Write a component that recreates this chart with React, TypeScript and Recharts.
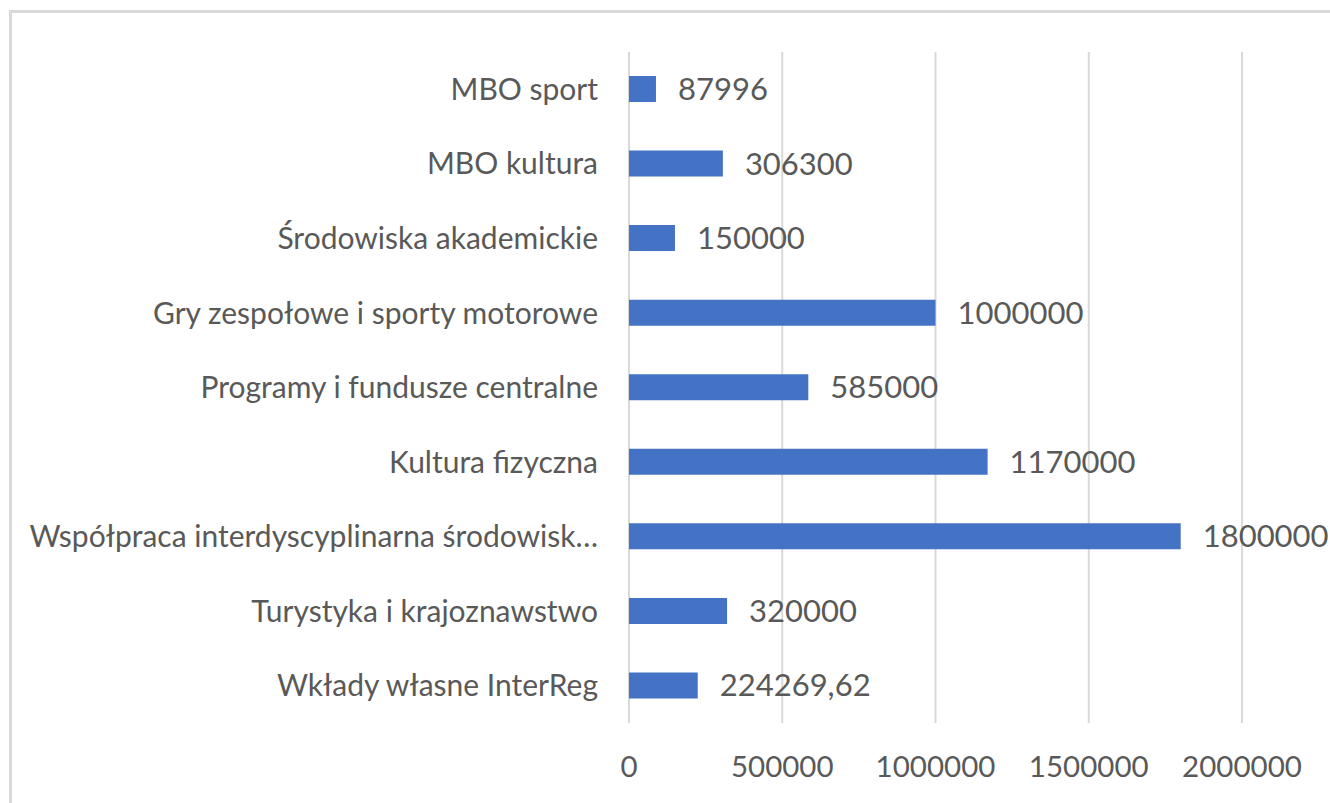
import { Bar, BarChart, CartesianGrid, LabelList, XAxis, YAxis } from 'recharts'

const categories = [
  'MBO sport',
  'MBO kultura',
  'Środowiska akademickie',
  'Gry zespołowe i sporty motorowe',
  'Programy i fundusze centralne',
  'Kultura fizyczna',
  'Współpraca interdyscyplinarna środowisk…',
  'Turystyka i krajoznawstwo',
  'Wkłady własne InterReg',
]

const amounts = [87996, 306300, 150000, 1000000, 585000, 1170000, 1800000, 320000, 224269.62]

const xTicks = [0, 500000, 1000000, 1500000, 2000000]

const chartData = categories.map((name, i) => ({ name, value: amounts[i] }))

const FONT = 'Lato, "Open Sans", sans-serif'
const TEXT = '#595959'

const App = () => {
  return (
    <div style={{ position: 'fixed', left: 0, top: 0, width: 1330, height: 803, background: '#fff', overflow: 'hidden' }}>
      <div
        style={{
          position: 'absolute',
          left: 9,
          top: 10,
          width: 1400,
          height: 900,
          border: '3px solid #d9d9d9',
          boxSizing: 'border-box',
        }}
      />
      <div style={{ position: 'absolute', left: 0, top: 0 }}>
        <BarChart
          width={1330}
          height={803}
          data={chartData}
          layout="vertical"
          margin={{ top: 52, right: 88, left: 0, bottom: 20 }}
          style={{ fontFamily: FONT }}
        >
          <CartesianGrid horizontal={false} stroke="#d9d9d9" strokeWidth={2} />
          <XAxis
            type="number"
            domain={[0, 2000000]}
            ticks={xTicks}
            interval={0}
            axisLine={false}
            tickLine={false}
            tickMargin={27}
            height={60}
            tick={{ fill: TEXT, fontSize: 29.5, fontFamily: FONT }}
          />
          <YAxis
            type="category"
            dataKey="name"
            width={629}
            axisLine={false}
            tickLine={false}
            tickMargin={25}
            interval={0}
            tick={{ fill: TEXT, fontSize: 30, fontFamily: FONT }}
          />
          <Bar dataKey="value" fill="#4472c4" barSize={26} isAnimationActive={false}>
            <LabelList
              dataKey="value"
              position="right"
              offset={22}
              fill={TEXT}
              fontSize={31}
              fontFamily={FONT}
              formatter={(v: any) => String(v).replace('.', ',')}
            />
          </Bar>
        </BarChart>
      </div>
    </div>
  )
}

export default App
